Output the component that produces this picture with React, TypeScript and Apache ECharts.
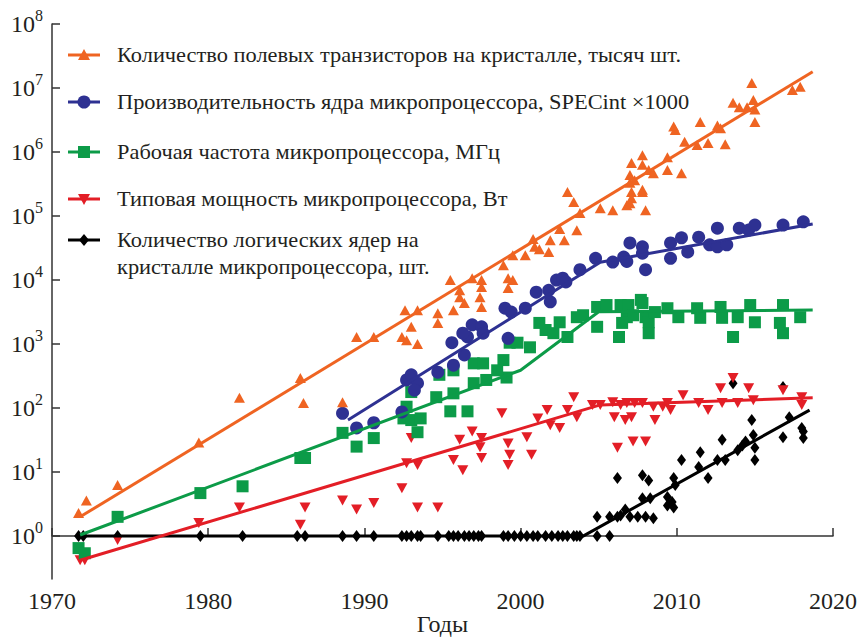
import { useEffect, useRef } from "react";
import * as echarts from "echarts";

type Pt = [number, number];

// Transistor count per die, thousands
const transistors: Pt[] = [
  [1971.7, 2.3], [1972.2, 3.6], [1974.2, 6.3], [1979.4, 29], [1982.0, 145],
  [1985.9, 295], [1986.1, 120], [1988.6, 123], [1989.5, 1290], [1990.6, 1290],
  [1992.4, 1290], [1992.6, 3390], [1992.7, 1150], [1993.0, 1860], [1993.4, 3390],
  [1993.4, 1000], [1994.7, 3020], [1994.7, 2140], [1995.7, 3390], [1996.4, 4370],
  [1997.5, 3800], [1996.1, 5370], [1997.4, 5370], [1996.1, 6920], [1997.5, 7760],
  [1999.2, 7500], [1995.5, 10000], [1996.9, 10700], [1997.5, 10000], [1999.2, 10700],
  [1999.5, 10000], [1998.9, 17000], [1999.5, 24500], [2000.3, 24500], [2000.9, 33000],
  [2001.2, 30200], [2001.8, 27500], [2000.8, 43700], [2001.9, 41700], [2002.8, 41700],
  [2002.5, 63000], [2003.6, 60000], [2003.8, 112000], [2003.0, 237000], [2003.4, 166000],
  [2005.1, 132000], [2005.9, 123000], [2006.8, 148000], [2007.0, 158000], [2008.0, 123000],
  [2007.1, 237000], [2007.8, 237000], [2007.1, 190000], [2007.8, 257000], [2007.0, 331000],
  [2007.3, 363000], [2007.0, 437000], [2008.2, 525000], [2008.5, 468000], [2009.4, 525000],
  [2010.3, 468000], [2007.1, 676000], [2007.8, 631000], [2007.8, 891000], [2009.4, 832000],
  [2010.5, 1.45e6], [2011.3, 1.29e6], [2012.0, 1.38e6], [2013.1, 1.32e6], [2009.8, 2.5e6],
  [2009.9, 2.2e6], [2011.5, 2.95e6], [2012.6, 2.6e6], [2012.8, 2.35e6], [2015.0, 2.95e6],
  [2013.6, 5.9e6], [2014.0, 5.0e6], [2014.5, 5.0e6], [2014.9, 6.5e6], [2015.0, 4.6e6],
  [2014.8, 1.2e7], [2017.4, 9.3e6], [2017.9, 1.05e7],
];

// Single-thread performance, SPECint x1000
const specint: Pt[] = [
  [1988.6, 83], [1989.5, 49], [1990.6, 59], [1992.4, 87], [1992.7, 275], [1993.0, 331],
  [1993.4, 245], [1993.2, 190], [1994.7, 363], [1995.7, 468], [1996.4, 676], [1995.6, 1050],
  [1996.6, 1290], [1996.9, 2000], [1997.5, 1860], [1997.6, 1480], [1996.3, 1480], [1999.2, 1230],
  [1999.0, 3630], [1999.4, 3160], [2000.3, 3630], [2001.0, 6460], [2001.8, 6920], [2001.9, 4570],
  [2002.3, 10000], [2002.7, 10700], [2002.9, 9330], [2003.8, 14500], [2004.8, 21900], [2005.9, 19100],
  [2006.6, 22900], [2007.0, 38000], [2006.8, 19500], [2007.8, 33000], [2007.8, 26300], [2008.0, 14500],
  [2009.6, 38000], [2009.6, 21900], [2010.3, 45700], [2010.7, 27500], [2011.4, 46800], [2012.1, 35500],
  [2012.6, 64600], [2012.6, 33100], [2013.2, 35500], [2014.0, 64600], [2014.6, 60300], [2015.0, 72400],
  [2016.8, 72400], [2018.1, 81300],
];

// Clock frequency, MHz
const frequency: Pt[] = [
  [1971.7, 0.65], [1972.1, 0.54], [1974.2, 2.0], [1979.5, 4.7], [1982.2, 6.0], [1985.9, 16.6],
  [1986.2, 16.6], [1988.6, 41], [1989.5, 25], [1990.6, 34], [1992.5, 69], [1992.7, 105],
  [1993.0, 65], [1993.6, 69], [1993.4, 42], [1993.0, 178], [1994.6, 148], [1995.7, 170],
  [1997.0, 245], [1997.8, 275], [1999.1, 300], [1995.5, 89], [1996.6, 89], [1994.8, 331],
  [1995.7, 389], [1997.0, 500], [1997.6, 500], [1998.9, 562], [1998.5, 389], [1999.3, 1050],
  [1999.8, 1050], [2000.6, 890], [2001.2, 2140], [2001.6, 1660], [2002.1, 1480], [2003.0, 1290],
  [2002.5, 2190], [2003.6, 2630], [2004.0, 2820], [2004.9, 3800], [2005.5, 4070], [2006.4, 4070],
  [2006.8, 2630], [2004.9, 1860], [2006.3, 1290], [2006.9, 4070], [2007.2, 2820], [2007.7, 4900],
  [2007.8, 4370], [2008.0, 2630], [2008.2, 2190], [2008.2, 1480], [2006.5, 2140], [2008.6, 3160],
  [2009.4, 3630], [2010.1, 2630], [2011.3, 3630], [2011.5, 2570], [2012.8, 3800], [2012.9, 2570],
  [2013.6, 1290], [2013.9, 2630], [2014.7, 4070], [2015.0, 2190], [2016.8, 4070], [2016.6, 2140],
  [2016.8, 1480], [2017.9, 2630],
];

// Typical power, W
const power: Pt[] = [
  [1971.8, 0.42], [1972.1, 0.42], [1974.2, 0.87], [1979.4, 1.6], [1982.0, 2.8], [1985.9, 1.5],
  [1986.2, 2.8], [1988.6, 3.6], [1989.5, 2.6], [1990.6, 3.3], [1992.4, 5.6], [1992.7, 13.8],
  [1993.4, 12.9], [1993.0, 34], [1993.4, 2.8], [1994.7, 2.8], [1995.7, 15.5], [1996.3, 10.7],
  [1996.1, 32], [1996.9, 43], [1997.5, 16.6], [1997.4, 24.5], [1997.5, 34], [1998.8, 83],
  [1999.2, 28], [1999.3, 18.6], [1999.2, 12.9], [2000.4, 35], [2000.7, 18.6], [2001.1, 69],
  [2001.7, 93], [2001.9, 54], [2002.5, 49], [2003.0, 93], [2003.4, 148], [2003.6, 72],
  [2004.6, 112], [2005.1, 112], [2005.9, 123], [2006.4, 112], [2006.2, 24], [2006.0, 72],
  [2006.8, 120], [2007.3, 120], [2007.8, 120], [2008.5, 105], [2008.6, 65], [2007.1, 72],
  [2006.7, 65], [2007.2, 30], [2008.0, 30], [2009.4, 120], [2009.6, 93], [2009.1, 105],
  [2010.4, 158], [2011.4, 120], [2012.0, 93], [2012.8, 204], [2012.9, 120], [2013.6, 295],
  [2013.9, 120], [2014.6, 204], [2014.9, 132], [2016.8, 190], [2018.0, 148], [2018.0, 112],
];

// Logical cores per die
const cores: Pt[] = [
  [1971.7, 1], [1972.0, 1], [1974.2, 1], [1979.5, 1], [1982.2, 1], [1985.7, 1], [1986.2, 1],
  [1988.6, 1], [1989.5, 1], [1990.6, 1], [1992.4, 1], [1992.7, 1], [1993.0, 1], [1993.4, 1],
  [1993.6, 1], [1994.7, 1], [1995.4, 1], [1995.7, 1], [1996.0, 1], [1996.4, 1], [1996.7, 1],
  [1997.0, 1], [1997.3, 1], [1997.5, 1], [1998.9, 1], [1999.2, 1], [1999.6, 1], [2000.0, 1],
  [2000.4, 1], [2000.8, 1], [2001.1, 1], [2001.6, 1], [2002.0, 1], [2002.4, 1], [2002.7, 1],
  [2003.0, 1], [2003.4, 1], [2003.6, 1], [2003.8, 1], [2004.9, 1], [2005.7, 1],
  [2004.9, 2], [2005.7, 2], [2006.2, 2], [2006.4, 2.1], [2006.2, 8.1], [2006.7, 2.6],
  [2007.0, 2], [2007.5, 2], [2008.0, 2], [2008.5, 1.9], [2007.8, 3.9], [2008.3, 3.9],
  [2007.8, 8.9], [2008.2, 7.4], [2009.4, 4.1], [2009.7, 3.4], [2009.8, 2.8], [2009.4, 3.0],
  [2009.8, 8.1], [2009.9, 6.3], [2010.3, 15.5], [2011.5, 20.4], [2011.4, 12], [2012.0, 8.1],
  [2012.6, 15.5], [2012.9, 32], [2013.1, 15.5], [2013.9, 22], [2014.2, 26], [2014.4, 30],
  [2014.8, 65], [2014.9, 38], [2015.0, 24], [2015.0, 15.5], [2013.6, 245], [2016.8, 214],
  [2016.8, 35], [2017.2, 72], [2018.0, 49], [2018.1, 43], [2018.1, 34],
];

// Trend lines (break points)
const transistorsTrend: Pt[] = [[1971.8, 2.0], [2018.7, 1.8e7]];
const specintTrend: Pt[] = [[1988.95, 65], [2005.1, 19000], [2018.7, 75000]];
const frequencyTrend: Pt[] = [[1971.8, 1.04], [2000.0, 390], [2005.0, 3200], [2018.7, 3400]];
const powerTrend: Pt[] = [[1971.8, 0.42], [2005.1, 112], [2018.7, 145]];
const coresTrend: Pt[] = [[1971.8, 1], [2004.0, 1], [2018.5, 93]];

const legendNames = [
  "Количество полевых транзисторов на кристалле, тысяч шт.",
  "Производительность ядра микропроцессора, SPECint ×1000",
  "Рабочая частота микропроцессора, МГц",
  "Типовая мощность микропроцессора, Вт",
  "Количество логических ядер на\nкристалле микропроцессора, шт.",
];

const yExponents = [0, 1, 2, 3, 4, 5, 6, 7, 8];
const xAxisName = "Годы";

const SERIF = '"Liberation Serif", "Times New Roman", "DejaVu Serif", serif';
const INK = "#231f20";
const ORANGE = "#ef6422";
const BLUE = "#2e3192";
const GREEN = "#0c9b48";
const RED = "#e31e26";
const BLACK = "#000000";

const toLog = (pts: Pt[]) => pts.map(([x, v]) => [x, Math.log10(v)]);

function legendGraphic() {
  const lx1 = 68;
  const lx2 = 100;
  const cx = 84;
  const tx = 117;
  const rows = [55, 102, 152, 199, 240];
  const colors = [ORANGE, BLUE, GREEN, RED, BLACK];
  const els: any[] = [];
  rows.forEach((y, i) => {
    els.push({
      type: "line",
      shape: { x1: lx1, y1: y, x2: lx2, y2: y },
      style: { stroke: colors[i], lineWidth: 3 },
    });
  });
  // markers
  els.push({ type: "polygon", shape: { points: [[cx - 6, rows[0] + 5], [cx + 6, rows[0] + 5], [cx, rows[0] - 6]] }, style: { fill: ORANGE } });
  els.push({ type: "circle", shape: { cx, cy: rows[1], r: 6.5 }, style: { fill: BLUE } });
  els.push({ type: "rect", shape: { x: cx - 6, y: rows[2] - 6, width: 12, height: 12 }, style: { fill: GREEN } });
  els.push({ type: "polygon", shape: { points: [[cx - 6, rows[3] - 5], [cx + 6, rows[3] - 5], [cx, rows[3] + 6]] }, style: { fill: RED } });
  els.push({ type: "polygon", shape: { points: [[cx, rows[4] - 6], [cx + 5, rows[4]], [cx, rows[4] + 6], [cx - 5, rows[4]]] }, style: { fill: BLACK } });
  legendNames.forEach((t, i) => {
    const multi = t.includes("\n");
    els.push({
      type: "text",
      x: tx,
      y: multi ? rows[i] - 13.5 : rows[i],
      scaleX: 1.12,
      style: {
        text: t,
        fontFamily: SERIF,
        fontSize: 20,
        lineHeight: 27,
        fill: INK,
        align: "left",
        verticalAlign: multi ? "top" : "middle",
      },
    });
  });
  return els;
}

export default function App() {
  const ref = useRef<HTMLDivElement>(null);

  useEffect(() => {
    if (!ref.current) return;
    const chart = echarts.init(ref.current, undefined, { renderer: "svg" });

    const scatter = (data: Pt[], color: string, symbol: string, size: any, rotate = 0) => ({
      type: "scatter",
      data: toLog(data),
      symbol,
      symbolSize: size,
      symbolRotate: rotate,
      itemStyle: { color, opacity: 1 },
      z: 2,
      silent: true,
    });
    const trend = (data: Pt[], color: string) => ({
      type: "line",
      data: toLog(data),
      symbol: "none",
      showSymbol: false,
      lineStyle: { color, width: 3 },
      z: 3,
      silent: true,
    });

    chart.setOption({
      animation: false,
      backgroundColor: "#ffffff",
      grid: { left: 52, right: 30, top: 24, bottom: 61, containLabel: false, outerBoundsMode: "none" },
      xAxis: {
        type: "value",
        min: 1970,
        max: 2020,
        interval: 10,
        name: xAxisName,
        nameLocation: "middle",
        nameGap: 33,
        nameMoveOverlap: false,
        nameTextStyle: { fontFamily: SERIF, fontSize: 24, color: INK, lineHeight: 24 },
        axisLine: { lineStyle: { color: "#333", width: 1.5 } },
        axisTick: { inside: true, length: 8, lineStyle: { color: "#333", width: 1.5 } },
        axisLabel: { fontFamily: SERIF, fontSize: 24, color: INK, margin: 10, formatter: (v: number) => String(v) },
        splitLine: { show: false },
      },
      yAxis: {
        type: "value",
        min: -0.67,
        max: 8,
        axisLine: { show: true, lineStyle: { color: "#333", width: 1.5 } },
        axisTick: { inside: true, length: 8, customValues: yExponents, lineStyle: { color: "#333", width: 1.5 } },
        axisLabel: {
          customValues: yExponents,
          margin: 9,
          formatter: (v: number) => `{b|10}{s|${Math.round(v)}}`,
          rich: {
            b: { fontFamily: SERIF, fontSize: 24, color: INK, lineHeight: 34 },
            s: { fontFamily: SERIF, fontSize: 16, color: INK, verticalAlign: "top", lineHeight: 20 },
          },
        },
        splitLine: { show: false },
      },
      series: [
        scatter(cores, BLACK, "diamond", [9, 12]),
        scatter(power, RED, "triangle", [11, 10], 180),
        scatter(frequency, GREEN, "rect", 12),
        scatter(specint, BLUE, "circle", 13),
        scatter(transistors, ORANGE, "triangle", [11, 10]),
        trend(coresTrend, BLACK),
        trend(powerTrend, RED),
        trend(frequencyTrend, GREEN),
        trend(specintTrend, BLUE),
        trend(transistorsTrend, ORANGE),
      ],
      graphic: legendGraphic(),
    });

    return () => chart.dispose();
  }, []);

  return (
    <div
      ref={ref}
      style={{ position: "fixed", left: 0, top: 0, width: "863px", height: "640px", background: "#fff" }}
    />
  );
}
